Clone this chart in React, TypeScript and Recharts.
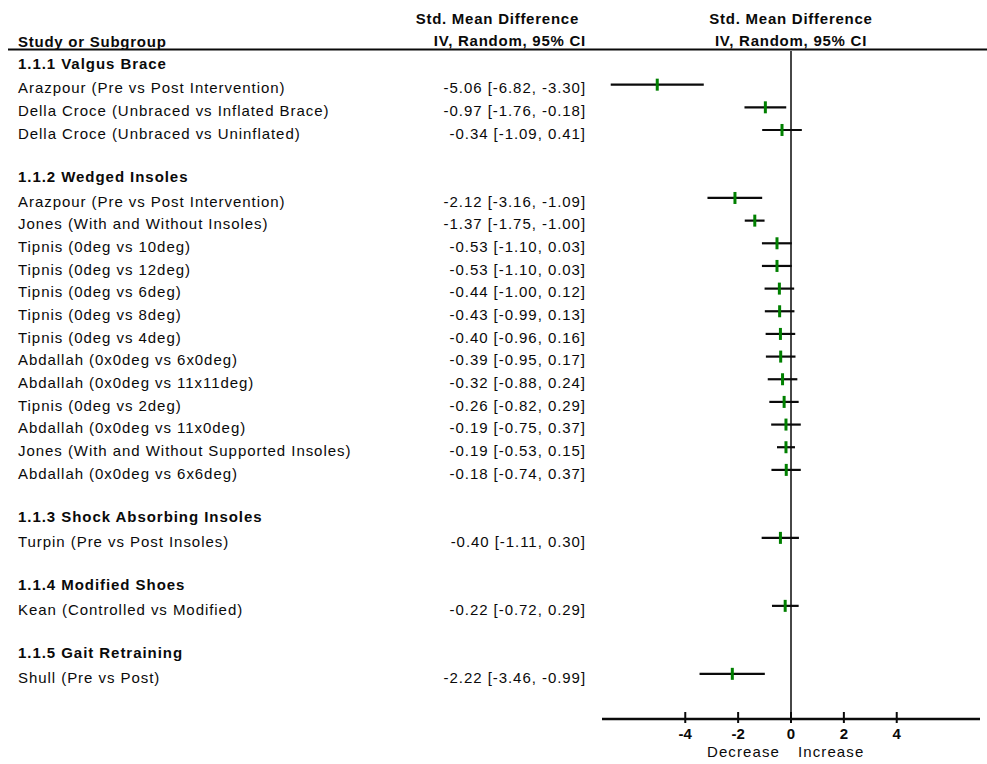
import React from "react";
import { Bar, ComposedChart, Customized, ReferenceLine, XAxis, YAxis } from "recharts";

// one entry per row of the forest plot (blank strings are spacer rows)
const rowLabels = [
  "1.1.1 Valgus Brace",
  "Arazpour (Pre vs Post Intervention)",
  "Della Croce (Unbraced vs Inflated Brace)",
  "Della Croce (Unbraced vs Uninflated)",
  "",
  "1.1.2 Wedged Insoles",
  "Arazpour (Pre vs Post Intervention)",
  "Jones (With and Without Insoles)",
  "Tipnis (0deg vs 10deg)",
  "Tipnis (0deg vs 12deg)",
  "Tipnis (0deg vs 6deg)",
  "Tipnis (0deg vs 8deg)",
  "Tipnis (0deg vs 4deg)",
  "Abdallah (0x0deg vs 6x0deg)",
  "Abdallah (0x0deg vs 11x11deg)",
  "Tipnis (0deg vs 2deg)",
  "Abdallah (0x0deg vs 11x0deg)",
  "Jones (With and Without Supported Insoles)",
  "Abdallah (0x0deg vs 6x6deg)",
  "",
  "1.1.3 Shock Absorbing Insoles",
  "Turpin (Pre vs Post Insoles)",
  "",
  "1.1.4 Modified Shoes",
  "Kean (Controlled vs Modified)",
  "",
  "1.1.5 Gait Retraining",
  "Shull (Pre vs Post)",
];

const rowKinds = [
  "group", "study", "study", "study", "blank",
  "group", "study", "study", "study", "study", "study", "study", "study",
  "study", "study", "study", "study", "study", "study", "blank",
  "group", "study", "blank",
  "group", "study", "blank",
  "group", "study",
];

const estimates = [
  null, -5.06, -0.97, -0.34, null,
  null, -2.12, -1.37, -0.53, -0.53, -0.44, -0.43, -0.4,
  -0.39, -0.32, -0.26, -0.19, -0.19, -0.18, null,
  null, -0.4, null,
  null, -0.22, null,
  null, -2.22,
];

const lowerCI = [
  null, -6.82, -1.76, -1.09, null,
  null, -3.16, -1.75, -1.1, -1.1, -1.0, -0.99, -0.96,
  -0.95, -0.88, -0.82, -0.75, -0.53, -0.74, null,
  null, -1.11, null,
  null, -0.72, null,
  null, -3.46,
];

const upperCI = [
  null, -3.3, -0.18, 0.41, null,
  null, -1.09, -1.0, 0.03, 0.03, 0.12, 0.13, 0.16,
  0.17, 0.24, 0.29, 0.37, 0.15, 0.37, null,
  null, 0.3, null,
  null, 0.29, null,
  null, -0.99,
];

const xTicks = [-4, -2, 0, 2, 4];

const FONT = "'Liberation Sans', Arial, sans-serif";
const INK = "#0a0a0a";

const fmt = (v: number) => v.toFixed(2);

const rows = rowLabels.map((label, i) => {
  const est = estimates[i];
  const lo = lowerCI[i];
  const hi = upperCI[i];
  return {
    id: `row${i}`,
    label,
    kind: rowKinds[i],
    est,
    ci: lo == null || hi == null ? undefined : [lo, hi],
    text: est == null || lo == null || hi == null ? "" : `${fmt(est)} [${fmt(lo)}, ${fmt(hi)}]`,
  };
});
const rowById: Record<string, (typeof rows)[number]> = {};
rows.forEach((r) => (rowById[r.id] = r));

function RowTick({ y, payload }: any) {
  const row = rowById[payload.value];
  if (!row || row.kind === "blank") return null;
  if (row.kind === "group") {
    return (
      <text x={18} y={y + 6.5} fontFamily={FONT} fontSize={15} fontWeight="bold" letterSpacing={0.95} fill={INK}>
        {row.label}
      </text>
    );
  }
  return (
    <g fontFamily={FONT} fontSize={15} letterSpacing={0.95} fill={INK}>
      <text x={18} y={y + 8.5}>{row.label}</text>
      <text x={586} y={y + 8.5} textAnchor="end">{row.text}</text>
    </g>
  );
}

function ForestMark(props: any) {
  const { x, y, width, height, payload } = props;
  if (!payload || payload.est == null || !payload.ci) return null;
  const cy = y + height / 2;
  const [lo, hi] = payload.ci;
  const mx = x + (width * (payload.est - lo)) / (hi - lo);
  return (
    <g>
      <line x1={x} x2={x + width} y1={cy} y2={cy} stroke={INK} strokeWidth={2.2} />
      <rect x={mx - 1.5} y={cy - 6} width={3} height={12} fill="#008000" />
    </g>
  );
}

function AxisTick({ x, y, payload }: any) {
  return (
    <g fontFamily={FONT} fill={INK}>
      <line x1={x} x2={x} y1={y - 7} y2={y + 4} stroke={INK} strokeWidth={2} />
      <text x={x} y={y + 20} textAnchor="middle" fontSize={15} fontWeight="bold">
        {payload.value}
      </text>
      {payload.value === 0 && (
        <>
          <text x={x - 11} y={y + 38} textAnchor="end" fontSize={15} letterSpacing={1.1}>
            Decrease
          </text>
          <text x={x + 7} y={y + 38} fontSize={15} letterSpacing={1.1}>
            Increase
          </text>
        </>
      )}
    </g>
  );
}

function Headers() {
  return (
    <g fontFamily={FONT} fontSize={15} fontWeight="bold" letterSpacing={0.75} fill={INK}>
      <text x={18} y={46.5}>Study or Subgroup</text>
      <text x={579} y={23.5} textAnchor="end">Std. Mean Difference</text>
      <text x={586} y={46} textAnchor="end">IV, Random, 95% CI</text>
      <text x={791} y={23.5} textAnchor="middle">Std. Mean Difference</text>
      <text x={791} y={46} textAnchor="middle">IV, Random, 95% CI</text>
      <line x1={8} x2={987} y1={49.5} y2={49.5} stroke={INK} strokeWidth={2} />
    </g>
  );
}

export default function App() {
  return (
    <div style={{ position: "absolute", left: 0, top: 0, width: 987, height: 764, background: "#fff" }}>
      <ComposedChart
        width={987}
        height={764}
        data={rows}
        layout="vertical"
        margin={{ top: 51, right: 7, bottom: 0, left: 0 }}
      >
        <XAxis
          type="number"
          domain={[-7.15, 7.15]}
          ticks={xTicks}
          allowDataOverflow
          height={45}
          axisLine={{ stroke: INK, strokeWidth: 2.5 }}
          tickLine={false}
          tickSize={0}
          tickMargin={0}
          tick={<AxisTick />}
        />
        <YAxis
          type="category"
          dataKey="id"
          width={602}
          axisLine={false}
          tickLine={false}
          interval={0}
          padding={{ top: 0, bottom: 33.5 }}
          tick={<RowTick />}
        />
        <ReferenceLine x={0} stroke={INK} strokeWidth={1.5} />
        <Bar dataKey="ci" barSize={12} shape={<ForestMark />} isAnimationActive={false} />
        <Customized component={Headers} />
      </ComposedChart>
    </div>
  );
}
